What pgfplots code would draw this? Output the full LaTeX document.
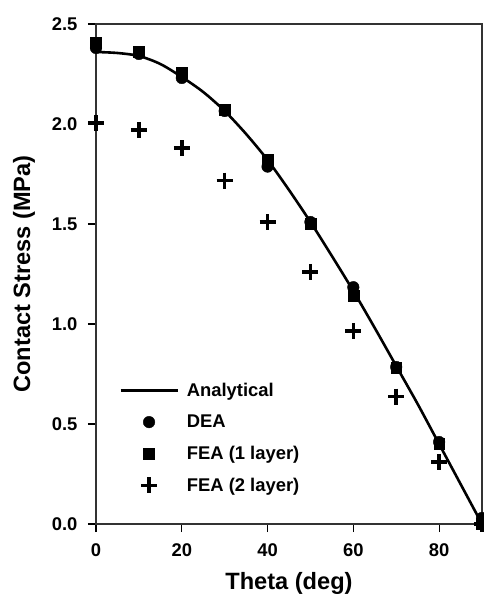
\documentclass[border=0pt]{standalone}
\usepackage{fontspec}
\setmainfont{Liberation Sans}
\usepackage{pgfplots}
\pgfplotsset{compat=1.18}
\pgfplotsset{
  linelegend/.style={legend image code/.code={\draw[##1] (0pt,0pt) -- (57pt,0pt);}},
  marklegend/.style={legend image code/.code={\draw[mark repeat=2,mark phase=2,##1] plot coordinates {(0pt,0pt) (28.5pt,0pt) (57pt,0pt)};}},
}
\begin{document}
\begin{tikzpicture}
\useasboundingbox (-96pt,-70pt) rectangle (388pt,524pt);
\begin{axis}[
  at={(0pt,0pt)}, anchor=south west,
  scale only axis, width=386pt, height=500pt,
  xmin=0, xmax=90, ymin=0, ymax=2.5,
  xtick={0,20,40,60,80}, ytick={0,0.5,1,1.5,2,2.5},
  tick align=outside, tick pos=left,
  major tick length=8pt,
  every tick/.style={black, line width=1.2pt},
  axis line style={line width=1.2pt, black!80},
  /pgf/number format/assume math mode=true,
  yticklabel style={/pgf/number format/fixed, /pgf/number format/fixed zerofill, /pgf/number format/precision=1, xshift=-7pt},
  xticklabel style={yshift=-8pt},
  ticklabel style={font=\fontsize{18.4}{20}\selectfont\bfseries},
  label style={font=\fontsize{23.6}{26}\selectfont\bfseries},
  xlabel={Theta (deg)}, ylabel={Contact Stress (MPa)},
  xlabel style={yshift=-9pt},
  ylabel style={yshift=10pt},
  clip=false,
  legend cell align=left,
  legend style={draw=none, fill=none, at={(rel axis cs:0.052,0.29)}, anchor=north west,
    font=\fontsize{18.4}{20}\selectfont\bfseries, row sep=13pt, column sep=6pt},
]
\addplot[black, line width=2.6pt, smooth, no marks, linelegend] coordinates {
(0,2.36) (5,2.355) (10,2.34) (15,2.30) (20,2.235) (25,2.16) (30,2.065) (35,1.95)
(40,1.82) (45,1.67) (50,1.51) (55,1.34) (60,1.165) (65,0.98) (70,0.79) (75,0.60)
(80,0.40) (85,0.20) (90,0.0)};
\addlegendentry{Analytical}
\addplot[only marks, mark=*, mark size=5.8pt, black, fill=black, marklegend] coordinates {
(0,2.38) (10,2.35) (20,2.23) (30,2.065) (40,1.787) (50,1.51) (60,1.184) (70,0.785) (80,0.41) (90,0.03)};
\addlegendentry{DEA}
\addplot[only marks, mark=square*, mark size=5.4pt, black, fill=black, marklegend] coordinates {
(0,2.405) (10,2.363) (20,2.255) (30,2.071) (40,1.821) (50,1.50) (60,1.14) (70,0.78) (80,0.40) (90,0.0)};
\addlegendentry{FEA (1 layer)}
\addplot[only marks, mark=+, mark size=8pt, black, line width=3.5pt, mark options={line width=3.5pt}, marklegend] coordinates {
(0,2.004) (10,1.971) (20,1.879) (30,1.717) (40,1.509) (50,1.261) (60,0.965) (70,0.637) (80,0.31) (90,0.0)};
\addlegendentry{FEA (2 layer)}
\end{axis}
\end{tikzpicture}
\end{document}
